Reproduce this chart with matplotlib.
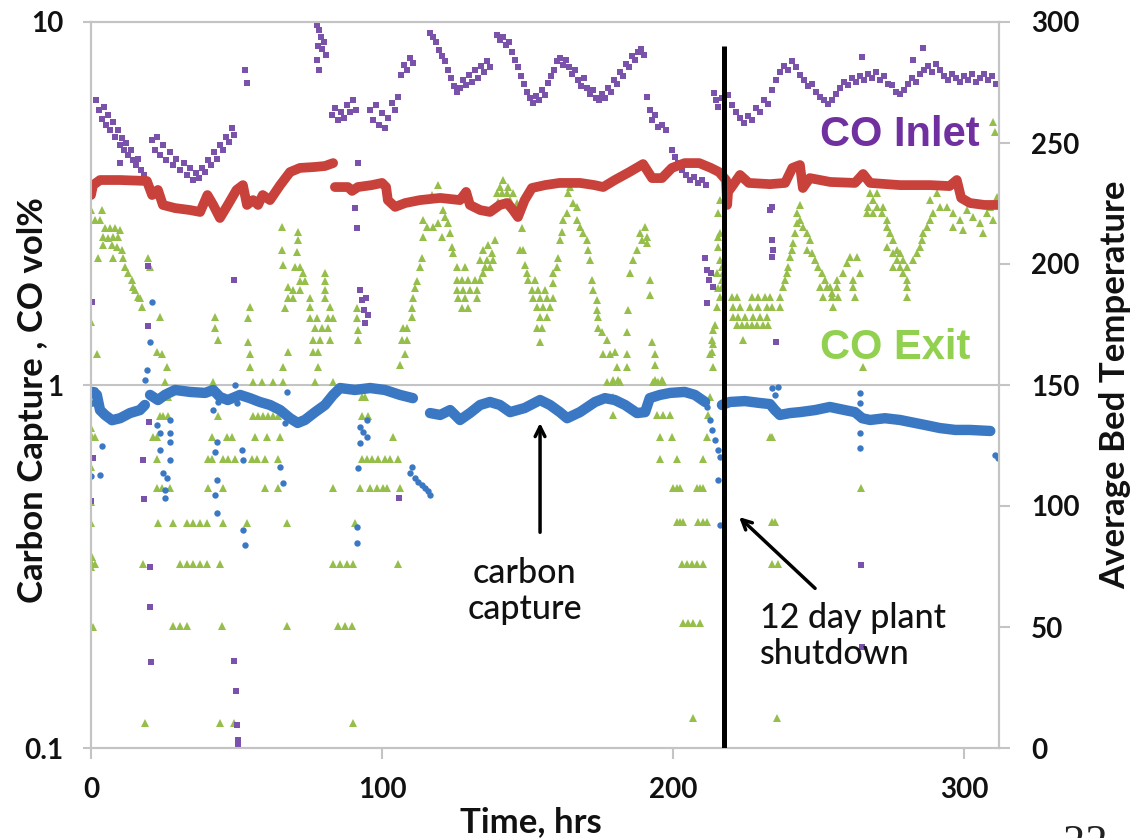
import numpy as np
import matplotlib
matplotlib.use("Agg")
import matplotlib.pyplot as plt
from matplotlib.ticker import NullLocator

nan = np.nan

# Average bed temperature (right axis), hours vs deg
temp_pts = [
    (0, 228.5), (0.7, 232.6), (3.1, 234.7), (10, 234.7), (19.2, 234.3), (21, 228.5),
    (23, 230.6), (24.7, 224.4), (28.9, 223.1), (34, 222.3), (37.5, 221.5), (40, 228.5),
    (42, 224.4), (44.3, 219.0), (47, 224.4), (50, 230.6), (52.2, 232.6), (53.6, 224.4),
    (55.7, 226.4), (57.4, 224.4), (59, 228.5), (61.5, 226.4), (65, 232.6), (68.4, 238.0),
    (71.8, 239.7), (77, 240.1), (80.4, 240.5), (83.2, 241.7), (83.5, nan), (83.8, 231.8),
    (88.3, 231.8), (89.7, 230.2), (91.7, 231.8), (96.5, 232.6), (100, 233.5), (101.4, 231.8),
    (102, 226.4), (104.5, 223.6), (108, 225.2), (113, 226.4), (120, 227.3), (126.8, 226.4),
    (128.9, 229.8), (130.2, 224.4), (133.7, 222.3), (137.1, 221.5), (140.5, 224.4),
    (143, 225.2), (145, 222.3), (146.7, 219.4), (149, 226.4), (151.5, 231.4), (156, 232.6),
    (161, 233.5), (168, 233.5), (173, 232.6), (176, 231.8), (180, 234.7), (185, 238.0),
    (189.7, 241.3), (192.8, 235.5), (196.2, 235.5), (199.6, 239.7), (204, 241.7),
    (209, 241.7), (213, 239.7), (215.8, 238.0), (218.2, 234.7), (218.6, 224.4),
    (218.9, 229.8), (220.6, 232.6), (223, 236.8), (226, 233.5), (233.3, 233.0),
    (238.5, 233.5), (241, 239.7), (243.6, 240.9), (244.6, 231.4), (247, 235.5),
    (254, 233.9), (262.5, 233.5), (265.3, 237.2), (267.7, 233.5), (278, 232.6),
    (288.3, 232.6), (295, 232.2), (297.5, 234.7), (299, 227.3), (302, 225.2),
    (307, 224.4), (311.6, 224.4),
]

# Carbon capture, main trace
capture_pts = [
    (0.7, 0.957), (2, 0.94), (3.1, 0.853), (4.8, 0.827), (7.2, 0.80), (10, 0.81),
    (13.4, 0.837), (16.8, 0.853), (18.5, 0.881), (19.5, nan), (20.3, 0.939), (23, 0.909),
    (25.4, 0.939), (28.9, 0.969), (34, 0.957), (39.2, 0.951), (42, 0.969), (44.3, 0.927),
    (47, 0.909), (51.2, 0.939), (54.6, 0.92), (58, 0.898), (61.5, 0.881), (65, 0.853),
    (68.4, 0.81), (71, 0.786), (73.5, 0.801), (77, 0.842), (80.4, 0.881), (83.2, 0.939),
    (85.6, 0.981), (90.7, 0.969), (95.9, 0.981), (101, 0.969), (106.2, 0.939),
    (110.6, 0.92), (113, nan), (116.5, 0.837), (120, 0.827), (123.4, 0.853),
    (126.8, 0.801), (130.2, 0.837), (133.7, 0.881), (137.1, 0.898), (140.5, 0.881),
    (144, 0.842), (149, 0.864), (154.3, 0.909), (157.7, 0.881), (161.1, 0.842),
    (163.6, 0.81), (168, 0.842), (173.2, 0.898), (176.6, 0.92), (180, 0.909),
    (183.5, 0.881), (187.6, 0.837), (190.4, 0.842), (192, 0.92), (195.5, 0.939),
    (199, 0.951), (204, 0.957), (207.5, 0.939), (211, 0.898), (212, nan), (216.8, 0.881),
    (219.5, 0.898), (224.7, 0.903), (229.9, 0.892), (233.3, 0.886), (235, 0.853),
    (236.7, 0.827), (240.2, 0.837), (243.6, 0.842), (248.8, 0.853), (253.9, 0.87),
    (259, 0.853), (262.5, 0.842), (265, 0.81), (267.7, 0.801), (272.8, 0.81),
    (278, 0.801), (281.4, 0.791), (286.6, 0.776), (291.7, 0.761), (297, 0.752),
    (302, 0.752), (309, 0.747),
]

# Carbon capture, scattered readings
capture_scatter = [
    (0, 0.89), (1.4, 0.97), (3.8, 0.68), (0, 0.56), (3.1, 0.565), (18.5, 1.03),
    (19.2, 1.10), (20.3, 1.31), (21, 1.69), (21, 0.927), (22.7, 0.776), (23.7, 0.738),
    (23.7, 0.662), (27.1, 0.80), (27.1, 0.738), (27.1, 0.697), (27.1, 0.621),
    (24.7, 0.572), (26.1, 0.554), (25.4, 0.514), (25.4, 0.489), (43.6, 0.898),
    (42, 0.853), (43.3, 0.697), (42.6, 0.654), (43.3, 0.548), (42.6, 0.498),
    (43.3, 0.444), (49.5, 1.0), (50.2, 0.892), (51.9, 0.662), (52.2, 0.621),
    (52.2, 0.398), (52.9, 0.363), (65, 0.595), (66, 0.537), (66.7, 0.786), (67.3, 0.957),
    (91.7, 0.591), (92.4, 0.766), (92.4, 0.692), (94.8, 0.801), (94.8, 0.719),
    (93.5, 0.742), (91.4, 0.406), (91.4, 0.367), (110.3, 0.595), (109.6, 0.572),
    (111.3, 0.554), (112.4, 0.54), (113.7, 0.53), (114.8, 0.52), (115.8, 0.51),
    (116.5, 0.498), (211.7, 0.87), (212.7, 0.801), (213.3, 0.752), (214.4, 0.705),
    (215.4, 0.662), (216.1, 0.633), (215.4, 0.548), (216.1, 0.412), (234, 0.981),
    (235, 0.939), (236, 0.987), (264.2, 0.951), (264.2, 0.892), (264.2, 0.738),
    (264.2, 0.671), (310.6, 0.641), (311.6, 0.629),
]

# CO inlet, vol%
co_inlet = [
    (0.3, 3.60), (0.3, 1.69), (1.7, 6.10), (2.7, 5.72), (3.8, 5.4), (4.5, 5.83),
    (5.2, 5.20), (5.8, 5.54), (6.5, 5.04), (7.6, 5.3), (8.2, 4.82), (9.3, 5.04),
    (10, 4.58), (10.7, 4.80), (11.3, 4.44), (12, 4.64), (12.7, 4.30), (13.7, 4.44),
    (14.4, 4.17), (15.5, 4.04), (16.1, 4.2), (17.2, 3.91), (18.2, 3.79), (10, 4.09),
    (21, 4.73), (22, 4.44), (22.7, 4.82), (23.7, 4.30), (24.7, 4.58), (25.8, 4.17),
    (27.1, 4.38), (28.2, 4.04), (29.2, 4.2), (30.6, 3.91), (32, 4.09), (33, 3.79),
    (34, 3.95), (35, 3.67), (36, 3.84), (37.1, 3.72), (38.1, 3.95), (39.2, 3.86),
    (40.2, 4.17), (41.2, 4.04), (42.3, 4.38), (43.3, 4.2), (44.3, 4.58), (45.4, 4.44),
    (46.4, 4.82), (47.4, 4.68), (48.4, 5.1), (49.1, 4.88),
    (53, 7.38), (53.6, 6.79), (49.1, 1.95), (19.6, 2.13), (19.6, 1.45), (0.7, 0.63),
    (0, 0.48), (17.9, 0.62), (19.9, 0.79), (18.2, 0.485), (20.3, 0.315), (20.3, 0.245),
    (20.6, 0.173), (49.1, 0.174), (49.8, 0.144), (50.2, 0.116), (50.5, 0.105),
    (50.5, 0.101), (105.8, 0.489), (264.6, 0.32), (265, 0.19),
    (77.7, 9.8), (78.3, 9.5), (79, 9.1), (78, 8.6), (79.4, 8.4), (80, 8.8), (80.8, 8.1),
    (77.7, 7.86), (78.3, 7.38),
    (82.8, 5.54), (83.8, 5.8), (84.9, 5.37), (85.9, 5.65), (86.9, 5.45), (88, 5.91),
    (89, 5.65), (90, 6.1), (91, 5.72), (91.7, 4.09), (90.7, 3.07), (91.4, 2.7),
    (92.4, 1.83), (93.1, 1.71), (93.8, 1.61), (94.5, 1.74), (95.2, 1.56), (94.1, 1.48),
    (95.9, 5.72), (96.9, 5.37), (97.9, 5.91), (99, 5.2), (100, 5.61), (101, 5.1),
    (102, 5.45), (103.4, 5.98), (104.5, 5.72), (105.5, 6.21), (106.5, 7.14),
    (107.5, 7.61), (108.6, 7.38), (109.6, 7.95), (110.6, 7.71),
    (116.5, 9.33), (117.5, 9.1), (118.5, 8.8), (119.6, 8.37), (120.6, 8.05), (121.6, 7.8),
    (122.7, 7.38), (123.7, 7.01), (124.7, 6.66), (125.8, 6.42), (126.8, 6.58),
    (127.8, 6.92), (128.9, 6.70), (129.9, 7.14), (130.9, 6.85), (132, 7.38), (133, 7.01),
    (134, 7.56), (135, 7.28), (136.1, 7.8), (137.1, 7.5),
    (139.5, 9.2), (140.5, 8.9), (141.6, 9.1), (142.6, 8.64), (143.6, 8.8), (144.7, 8.25),
    (145.7, 7.86), (146.7, 7.5), (147.8, 7.08), (148.8, 6.75), (149.8, 6.42),
    (150.8, 6.17), (151.9, 5.98), (152.9, 6.25), (153.9, 6.10), (155, 6.50), (156, 6.29),
    (157, 6.79), (158, 7.08), (159.1, 7.38), (160.1, 7.8), (161.1, 7.95), (162.2, 7.61),
    (163.2, 7.86), (164.2, 7.5), (165.3, 7.18), (166.3, 7.38), (167.3, 6.92),
    (168.4, 6.66), (169.4, 7.01), (170.4, 6.58), (171.5, 6.33), (172.5, 6.50),
    (173.5, 6.17), (174.6, 6.10), (175.6, 6.33), (176.6, 6.17), (177.6, 6.58),
    (178.7, 6.42), (179.7, 6.92), (180.7, 6.75), (181.8, 7.28), (182.8, 7.08),
    (183.8, 7.65), (184.9, 7.5), (185.9, 8.05), (186.9, 7.86), (188, 8.25), (189, 8.45),
    (190, 8.11),
    (191, 6.21), (192.1, 5.72), (192.8, 5.37), (193.8, 5.54), (194.8, 5.14), (196.2, 5.2),
    (197.6, 5.04), (199.6, 4.44), (200.7, 4.25), (201.7, 4.09), (203.1, 3.91),
    (204.4, 3.79), (205.8, 3.67), (207.2, 3.74), (208.5, 3.60), (209.9, 3.67),
    (211.3, 3.56), (211, 2.24), (211.7, 2.07), (212.3, 1.95), (213, 2.03), (213.7, 1.86),
    (211.7, 1.68), (214, 6.37), (214.8, 6.10), (215.4, 5.83), (216.8, 6.17),
    (218.9, 6.29), (220.3, 5.91), (221.6, 5.65), (223, 5.45), (224.4, 5.27), (225.7, 5.5),
    (227.1, 5.37), (228.5, 5.8), (229.9, 5.65), (231.3, 6.10), (232.6, 5.95), (234, 6.50),
    (235.4, 6.92), (236.7, 7.28), (238.1, 7.56), (239.5, 7.38), (240.9, 7.8), (242.2, 7.5),
    (243.6, 7.14), (245, 6.92), (246.4, 6.66), (247.7, 6.75), (249.1, 6.42),
    (250.5, 6.21), (251.9, 6.10), (253.2, 5.95), (254.6, 6.10), (256, 6.33), (257.3, 6.58),
    (258.7, 6.85), (260.1, 6.70), (261.5, 7.01), (262.8, 6.85), (264.2, 7.08), (265, 8.0),
    (265.6, 6.92), (266.9, 7.18), (268.3, 7.01), (269.7, 7.28), (271.1, 6.92),
    (272.5, 7.08), (273.9, 6.75), (275.2, 6.70), (276.6, 6.42), (278, 6.33), (279.3, 6.50),
    (280.7, 6.75), (282.1, 7.01), (282.4, 7.86), (283.5, 6.85), (284.8, 7.18),
    (285.9, 8.5), (286.2, 7.38), (287.6, 7.56), (289, 7.28), (290.3, 7.65), (291.7, 7.38),
    (293.1, 7.08), (294.5, 6.92), (295.8, 7.18), (297.2, 7.01), (298.6, 6.85), (300, 7.08),
    (301.3, 6.92), (302.7, 7.18), (304.1, 6.85), (305.5, 7.01), (306.8, 7.18),
    (308.2, 6.92), (309.6, 7.08), (311, 6.75),
    (233.3, 3.03), (234, 3.09), (234, 2.51), (234.3, 2.35), (234, 2.25), (235.4, 1.31),
]

# CO exit, vol%
co_exit = [
    (1.4, 2.85), (3.1, 2.85), (3.8, 3.03), (4.8, 2.70), (6.5, 2.70), (8.2, 2.70),
    (10, 2.67), (4.1, 2.56), (5.8, 2.54), (7.6, 2.56), (9.3, 2.56), (4.1, 2.43),
    (7.2, 2.43), (8.9, 2.40), (2.4, 2.24), (7.6, 2.24), (10.7, 2.35), (11, 2.24),
    (11.7, 2.11), (12.7, 2.03), (14.1, 1.95), (14.4, 1.86), (15.1, 1.83), (16.1, 1.75),
    (16.8, 1.74), (17.5, 1.64), (19.6, 2.24), (20.3, 2.11), (23.7, 1.54), (22.7, 1.23),
    (24.4, 1.22), (26.1, 1.12), (25.4, 1.02), (2.1, 1.22), (0, 3.03), (0, 1.49),
    (0.3, 0.892), (0, 0.761), (0, 0.595), (0, 0.476), (0.3, 0.336), (0.7, 0.216),
    (0, 0.316),
    (42.6, 1.54), (42.6, 1.44), (43.6, 1.33), (42, 1.02), (54.6, 1.64), (53.9, 1.53),
    (53.9, 1.31), (54.6, 1.22), (54.6, 1.12), (55.7, 1.02), (58.8, 1.02), (62.5, 1.02),
    (66, 1.02), (65.6, 2.72), (65.6, 2.35), (66, 2.14), (67.7, 1.86), (67.7, 1.74),
    (66.7, 1.63), (67.7, 1.23), (66, 1.12), (71.1, 2.64), (71.1, 2.51), (70.8, 2.33),
    (70.1, 2.11), (71.8, 2.11), (72.8, 2.03), (71.8, 1.93), (73.5, 1.93), (69.4, 1.83),
    (71.8, 1.83), (69.4, 1.74), (75.2, 1.74), (75.2, 1.64), (75.2, 1.53), (77.7, 1.53),
    (81.4, 1.53), (77, 1.44), (79.4, 1.44), (81.4, 1.44), (76.3, 1.33), (78.7, 1.33),
    (82.1, 1.33), (80.4, 2.03), (80.4, 1.93), (80.4, 1.83), (80.4, 1.74), (82.1, 1.64),
    (83.2, 1.53), (78, 1.23), (76.3, 1.23), (78, 1.12), (77, 1.02), (83.2, 1.02),
    (91.4, 1.63), (91.4, 1.53), (91.7, 1.42), (91.7, 1.33),
    (25.4, 0.927), (26.5, 0.927), (93.1, 0.927), (94.1, 0.927),
    (23.7, 0.822), (24.7, 0.822), (26.5, 0.822), (43.6, 0.822), (55.7, 0.822),
    (57.4, 0.822), (59.1, 0.822), (60.8, 0.822), (62.5, 0.822), (64.3, 0.822),
    (93.1, 0.822), (95.2, 0.822),
    (0.3, 0.719), (1.4, 0.719), (21.3, 0.719), (22.7, 0.719), (41.6, 0.719),
    (46.7, 0.719), (48.4, 0.719), (56.4, 0.719), (60.5, 0.719), (64.9, 0.719),
    (103.8, 0.719),
    (22.7, 0.625), (40.2, 0.625), (41.6, 0.625), (45.4, 0.625), (47.1, 0.625),
    (49.5, 0.625), (55.3, 0.625), (57, 0.625), (59.8, 0.625), (64.3, 0.625),
    (93.1, 0.625), (94.8, 0.625), (96.6, 0.625), (98.6, 0.625), (101, 0.625),
    (102.7, 0.625), (105.5, 0.625),
    (22.7, 0.52), (24.4, 0.52), (27.1, 0.52), (40.2, 0.52), (45.4, 0.52), (59.8, 0.52),
    (64.3, 0.52), (83.2, 0.52), (92.4, 0.52), (95.9, 0.52), (98.3, 0.52), (100.3, 0.52),
    (101.7, 0.52), (106.2, 0.52),
    (0, 0.417), (23, 0.417), (28.2, 0.417), (33, 0.417), (35, 0.417), (37.5, 0.417),
    (39.9, 0.417), (45.4, 0.417), (53.6, 0.417), (67.3, 0.417), (90.7, 0.417),
    (0.3, 0.321), (1.4, 0.321), (17.9, 0.321), (30.6, 0.321), (33, 0.321), (35, 0.321),
    (37.5, 0.321), (39.9, 0.321), (44.3, 0.321), (83.2, 0.321), (85.6, 0.321),
    (88, 0.321), (90, 0.321), (105.5, 0.321),
    (28.2, 0.217), (30.6, 0.217), (33, 0.217), (45, 0.217), (67.3, 0.217), (84.9, 0.217),
    (87.3, 0.217), (89.7, 0.217),
    (18.6, 0.117), (44.3, 0.117), (49.1, 0.117), (90, 0.117),
    (119.2, 3.56), (117.2, 3.34), (114.1, 2.85), (114.1, 2.56), (115.5, 2.72),
    (117.5, 2.72), (119.2, 2.79), (121, 3.03), (121.6, 2.90), (122.7, 2.79),
    (123.4, 2.62), (120.6, 2.56), (124, 2.40), (124.4, 2.31), (125.8, 2.11),
    (128.5, 2.11), (125.8, 1.95), (127.5, 1.95), (129.5, 1.95), (131.9, 1.95),
    (133.7, 1.95), (125.8, 1.83), (127.8, 1.83), (130.2, 1.83), (132.6, 1.83),
    (126.1, 1.74), (128.5, 1.74), (132.6, 1.74), (127.5, 1.63), (129.5, 1.63),
    (113.7, 2.24), (113, 2.11), (112, 1.93), (111.3, 1.85), (110.6, 1.74), (110.3, 1.63),
    (110.3, 1.54), (107.2, 1.44), (108.6, 1.44), (106.9, 1.33), (108.6, 1.33),
    (107.9, 1.22), (106.2, 1.135), (133.7, 2.21), (136.1, 2.21), (134.7, 2.35),
    (136.4, 2.43), (137.8, 2.31), (138.8, 2.51), (137.1, 2.11), (138.1, 2.21),
    (135.4, 2.11), (134.7, 2.03),
    (141.6, 3.67), (140.5, 3.51), (143.3, 3.51), (139.5, 3.38), (141.2, 3.38),
    (142.9, 3.38), (145, 3.38), (139.8, 3.20), (142.3, 3.20), (144, 3.23), (146.4, 3.17),
    (148.1, 2.70), (147.4, 2.35), (148.4, 2.35), (149.1, 2.14), (149.8, 2.03),
    (150.2, 1.95), (152.6, 1.95), (151.5, 1.83), (153.6, 1.83), (156, 1.83),
    (151.9, 1.74), (154.3, 1.74), (156.7, 1.74), (158.7, 1.74), (153.3, 1.64),
    (155.3, 1.64), (157.7, 1.64), (154.3, 1.54), (156.7, 1.54), (153.3, 1.44),
    (155, 1.44), (154.3, 1.31), (158.7, 1.91), (158.7, 2.03), (160.1, 2.11),
    (160.5, 2.24), (161.1, 2.51), (161.8, 2.64), (162.2, 2.85), (163.6, 2.98),
    (163.9, 3.38), (164.6, 3.51), (165.6, 3.17), (167, 3.09), (167, 2.85), (168, 2.72),
    (169.1, 2.62), (170.4, 2.51), (170.8, 2.35), (171.5, 2.21), (172.1, 1.95),
    (172.5, 1.83), (173.9, 1.71), (173.9, 1.61), (174.2, 1.54), (174.2, 1.44),
    (175.6, 1.40), (177.3, 1.33), (175.9, 1.22), (178.3, 1.22), (180, 1.23),
    (180.7, 1.12), (179.4, 1.03), (181.1, 1.03), (184.2, 1.22), (184.2, 1.12),
    (184.2, 1.40), (184.5, 1.61), (185.2, 2.03), (186.2, 2.21), (187.6, 2.35),
    (189.3, 2.51), (188.6, 2.62), (190.4, 2.72), (191, 2.56), (191, 2.46), (192.1, 1.95),
    (192.1, 1.77), (192.8, 1.31), (193.8, 1.22), (193.8, 1.135), (193.8, 1.03),
    (196.2, 1.03), (212.7, 1.22), (213.7, 1.30), (214.4, 1.46), (215.1, 1.64),
    (215.4, 1.85), (215.1, 2.03), (216.1, 2.21), (216.1, 2.62), (215.4, 2.98),
    (216.1, 3.23), (213.7, 1.12),
    (177.3, 1.02), (179.4, 1.02), (181.8, 1.02), (193.1, 1.02), (194.8, 1.02),
    (196.5, 1.02), (179.4, 0.927), (212.7, 0.927), (179.4, 0.827), (194.5, 0.827),
    (196.5, 0.827), (198.9, 0.827), (212, 0.827), (195.5, 0.719), (199.6, 0.719),
    (211.7, 0.719), (233.3, 0.719), (234, 0.719), (195.5, 0.625), (201.4, 0.625),
    (210.3, 0.625), (200, 0.52), (201.4, 0.52), (202.4, 0.52), (208.2, 0.52),
    (209.3, 0.52), (210.3, 0.52), (264.6, 0.52), (201.4, 0.42), (202.4, 0.42),
    (203.4, 0.42), (208.6, 0.42), (210.3, 0.42), (211.7, 0.42), (234, 0.42), (235, 0.42),
    (203.1, 0.321), (204.8, 0.321), (206.5, 0.321), (208.2, 0.321), (210.3, 0.321),
    (234, 0.321), (236, 0.321), (203.4, 0.221), (205.1, 0.221), (206.8, 0.221),
    (209.3, 0.221), (206.8, 0.121), (235.7, 0.121),
    (215.4, 2.56), (215.4, 2.40), (216.8, 2.11), (217.2, 2.03), (216.8, 1.95),
    (216.8, 1.86), (216.1, 1.75), (213.7, 1.42), (213.3, 1.33), (213.3, 1.23),
    (220.3, 1.75), (222, 1.75), (220.6, 1.64), (223, 1.64), (220.6, 1.54), (222.3, 1.54),
    (224.7, 1.54), (222, 1.46), (223.7, 1.46), (225.4, 1.46), (227.1, 1.46),
    (228.8, 1.46), (230.9, 1.46), (232.6, 1.46), (224, 1.33), (227.1, 1.75),
    (229.2, 1.75), (231.6, 1.75), (233.3, 1.75), (226.4, 1.64), (229.2, 1.64),
    (232.3, 1.64), (234, 1.64), (227.5, 1.54), (229.9, 1.54), (232.3, 1.54),
    (236.7, 1.64), (236.7, 1.75), (237.8, 1.86), (238.5, 1.95), (239.1, 2.03),
    (239.5, 2.11), (240.2, 2.25), (240.9, 2.35), (241.2, 2.46), (241.9, 2.62),
    (242.6, 2.79), (242.6, 2.98), (243.6, 3.13), (243.6, 2.85), (244.6, 2.72),
    (246, 2.62), (247, 2.51), (246, 2.35), (247.7, 2.31), (248.8, 2.21), (249.8, 2.11),
    (251.2, 2.03), (252.2, 1.95), (252.9, 1.86), (254.6, 1.79), (250.5, 1.86),
    (253.9, 1.86), (256.3, 1.86), (251.5, 1.75), (254.6, 1.75), (256.7, 1.75),
    (255, 1.64), (256.3, 1.95), (258.4, 2.03), (259.8, 2.17), (260.8, 2.25),
    (263.2, 2.25), (261.8, 1.95), (261.8, 1.86), (262.5, 1.75), (264.2, 2.03),
    (265.3, 1.12), (267.7, 3.38), (270.1, 3.38), (268.7, 3.23), (267, 3.09),
    (270.1, 3.09), (272.1, 3.09), (266.6, 2.98), (268.7, 2.98), (271.8, 2.98),
    (273.5, 2.85), (273.5, 2.72), (274.5, 2.62), (275.6, 2.51), (273.5, 2.40),
    (276.9, 2.35), (278, 2.31), (279, 2.21), (280.4, 2.11), (279, 2.03), (280.4, 1.95),
    (280.4, 1.86), (280.4, 1.75), (275.6, 2.31), (276.9, 2.21), (275.6, 2.11),
    (278, 2.11), (282.4, 2.21), (283.8, 2.31), (284.8, 2.40), (285.5, 2.51),
    (285.9, 2.62), (287.3, 2.72), (288.3, 2.85), (289.3, 2.98), (291.7, 3.09),
    (288.3, 3.23), (290.7, 3.38), (294.1, 3.09), (296.2, 2.98), (298.6, 2.85),
    (301, 3.03), (303, 2.90), (305.5, 2.79), (307.9, 2.98), (309.9, 2.85),
    (296.2, 2.72), (299.6, 2.67), (306.5, 2.62), (308.9, 3.09), (311.3, 3.30),
    (309.9, 5.30), (310.6, 4.97),
]

x_ticks = [0, 100, 200, 300]
left_ticks = [0.1, 1, 10]
left_labels = ["0.1", "1", "10"]
right_ticks = [0, 50, 100, 150, 200, 250, 300]
shutdown_hr = 217.5

BLUE = "#3B78C4"
RED = "#C8413A"
PURPLE = "#7B52AB"
GREEN = "#95BE4A"
GRID = "#C4C4C4"
LABEL_FONT = "Lato"

fig = plt.figure(figsize=(11.35, 8.38), dpi=100)
ax = fig.add_axes([91 / 1135, 90 / 838, 908 / 1135, 726 / 838])

ax.set_yscale("log")
ax.set_xlim(0, 312)
ax.set_ylim(0.1, 10)
ax.yaxis.set_minor_locator(NullLocator())
ax.axhline(1, color=GRID, lw=1.5, zorder=0)

h, v = zip(*co_exit)
ax.plot(h, v, ls="none", marker="^", ms=6, color=GREEN, mew=0, zorder=2)
h, v = zip(*co_inlet)
ax.plot(h, v, ls="none", marker="s", ms=3.8, color=PURPLE, mew=0, zorder=3)
h, v = zip(*capture_pts)
ax.plot(h, v, color=BLUE, lw=7.5, solid_capstyle="round", solid_joinstyle="round", zorder=4)
h, v = zip(*capture_scatter)
ax.plot(h, v, ls="none", marker="o", ms=4.6, color=BLUE, mew=0, zorder=4)

# plant shutdown marker
ax.plot([shutdown_hr, shutdown_hr], [0.1, 8.48], color="black", lw=3.6, zorder=6,
        solid_capstyle="butt")

ax2 = ax.twinx()
ax2.set_ylim(0, 300)
h, t = zip(*temp_pts)
ax2.plot(h, t, color=RED, lw=7, solid_capstyle="round", solid_joinstyle="round")
ax2.plot([shutdown_hr, shutdown_hr], [0, 290], color="black", lw=3.6,
         solid_capstyle="butt", zorder=6)

for a in (ax, ax2):
    for side in ("left", "right", "top", "bottom"):
        a.spines[side].set_color(GRID)
        a.spines[side].set_linewidth(1.5)

tick_font = dict(fontsize=20, fontweight="bold", family=LABEL_FONT, color="#111111")
ax.set_xticks(x_ticks, [str(x) for x in x_ticks], **tick_font)
ax.set_yticks(left_ticks, left_labels, **tick_font)
ax2.set_yticks(right_ticks, [str(r) for r in right_ticks], **tick_font)
ax.tick_params(axis="x", length=8, width=1.5, color=GRID, pad=13)
ax.tick_params(axis="y", length=6, width=1.5, color=GRID, pad=14)
ax2.tick_params(axis="y", length=8, width=1.5, color=GRID, pad=15)

axis_font = dict(fontsize=25, fontweight="bold", family=LABEL_FONT, color="#111111")
fig.text(33 / 1135, 1 - 400 / 838, "Carbon Capture , CO vol%", rotation=90,
         ha="center", va="center", **axis_font)
fig.text(1115 / 1135, 1 - 385 / 838, "Average Bed Temperature", rotation=90,
         ha="center", va="center", **axis_font)
fig.text(531 / 1135, 1 - 822 / 838, "Time, hrs", ha="center", va="center", **axis_font)

fig.text(820 / 1135, 1 - 135 / 838, "CO Inlet", ha="left", va="center", fontsize=30,
         fontweight="bold", family="Liberation Sans", color="#7030A0")
fig.text(820 / 1135, 1 - 348 / 838, "CO Exit", ha="left", va="center", fontsize=30,
         fontweight="bold", family="Liberation Sans", color="#92D050")

note_font = dict(fontsize=24.5, family=LABEL_FONT, fontweight="medium", color="#111111",
                 linespacing=1.15)
ax.text(149, 0.271, "carbon\ncapture", ha="center", va="center", **note_font)
ax.text(229.9, 0.204, "12 day plant\nshutdown", ha="left", va="center", **note_font)
arrow = dict(arrowstyle="->,head_length=0.7,head_width=0.35", color="black", lw=2.5)
ax.annotate("", xy=(154.3, 0.80), xytext=(154.3, 0.386), arrowprops=arrow, zorder=7)
ax.annotate("", xy=(222, 0.438), xytext=(249.5, 0.272), arrowprops=arrow, zorder=7)

fig.text(1085 / 1135, 14 / 838, "22", ha="center", va="top", fontsize=32,
         family="Liberation Serif", color="#222222")

fig.savefig("out.png", dpi=100)
